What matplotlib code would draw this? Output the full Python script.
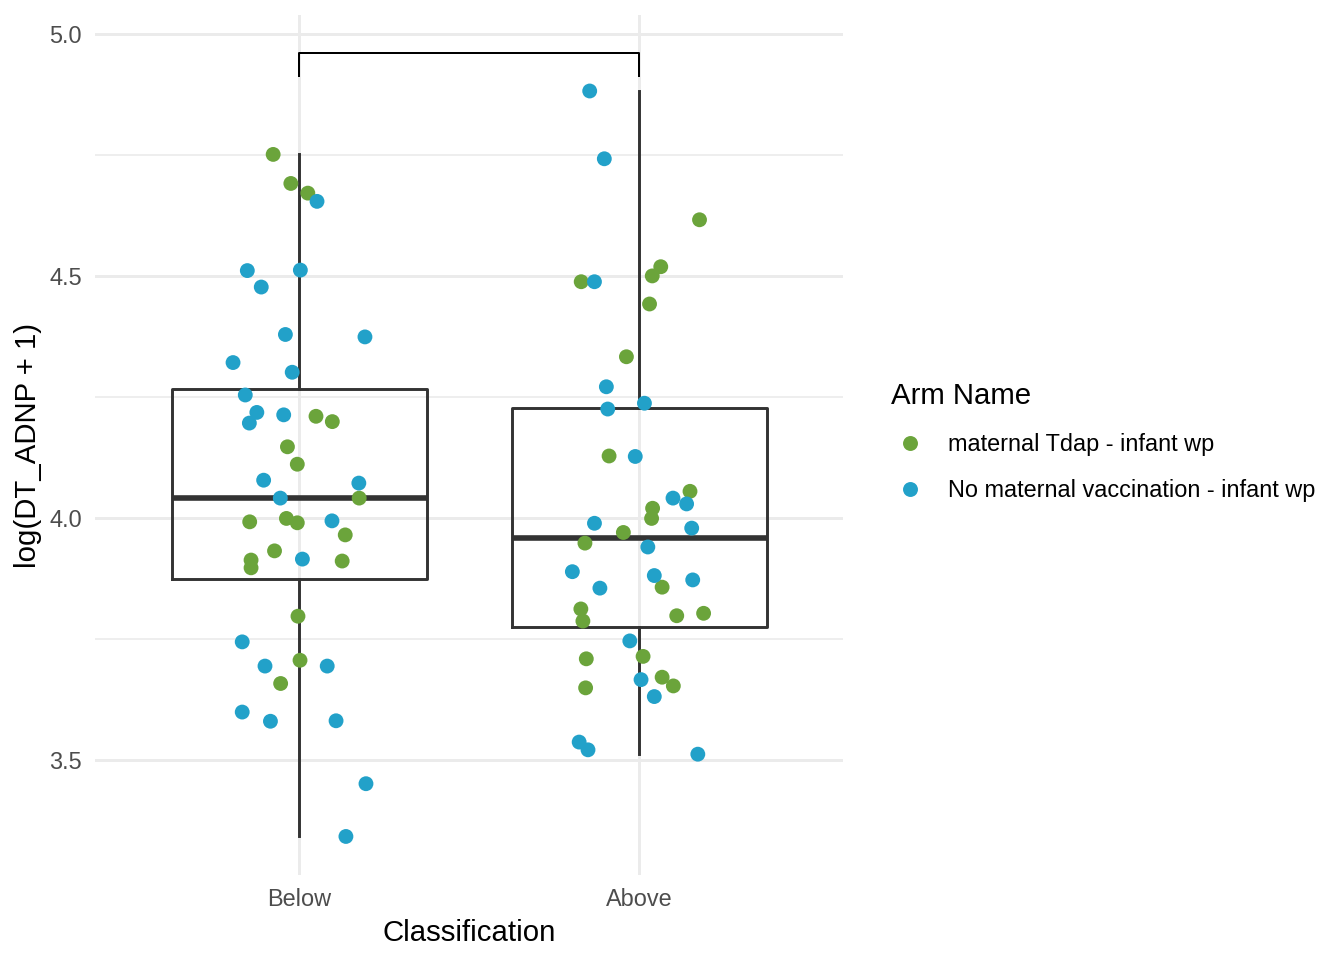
import matplotlib
matplotlib.use("Agg")
import matplotlib.pyplot as plt
from matplotlib.lines import Line2D

plt.rcParams['font.family'] = ['Liberation Sans', 'DejaVu Sans']

# kategorie i ramiona
categories = ["Below", "Above"]
arms = ["maternal Tdap - infant wp", "No maternal vaccination - infant wp"]
arm_colors = ["#6BA43B", "#22A1C9"]

# Below - maternal Tdap (jitter w jednostkach kategorii, wartosc)
below_tdap_dx = [-0.076, -0.024, 0.026, 0.050, 0.098, -0.034, -0.005, 0.177, -0.145, -0.037,
                 -0.005, 0.136, -0.072, -0.141, -0.141, 0.127, -0.003, 0.003, -0.054]
below_tdap_y = [4.751, 4.691, 4.671, 4.210, 4.199, 4.147, 4.111, 4.041, 3.992, 3.999,
                3.990, 3.965, 3.932, 3.913, 3.897, 3.911, 3.797, 3.706, 3.658]
# Below - no vaccination
below_novac_dx = [0.053, -0.152, 0.004, -0.111, -0.040, 0.194, -0.194, -0.020, -0.158, -0.124,
                  -0.045, -0.146, -0.104, 0.176, -0.055, 0.097, 0.010, -0.167, -0.100, 0.083,
                  -0.167, -0.084, 0.109, 0.197, 0.138]
below_novac_y = [4.654, 4.511, 4.512, 4.477, 4.379, 4.374, 4.321, 4.301, 4.254, 4.218,
                 4.213, 4.196, 4.078, 4.072, 4.041, 3.994, 3.915, 3.744, 3.694, 3.694,
                 3.599, 3.580, 3.581, 3.451, 3.342]
# Above - maternal Tdap
above_tdap_dx = [0.178, 0.064, 0.039, -0.170, 0.031, -0.037, -0.088, 0.150, 0.040, 0.037,
                 -0.046, -0.159, 0.068, -0.171, -0.165, 0.111, 0.190, -0.155, 0.012, 0.068,
                 0.101, -0.157]
above_tdap_y = [4.616, 4.519, 4.500, 4.488, 4.442, 4.333, 4.128, 4.055, 4.020, 3.999,
                3.970, 3.948, 3.857, 3.812, 3.787, 3.798, 3.803, 3.709, 3.714, 3.671,
                3.653, 3.649]
# Above - no vaccination
above_novac_dx = [-0.145, -0.102, -0.131, -0.096, 0.016, -0.092, -0.011, 0.100, 0.140, -0.131,
                  0.155, 0.026, -0.196, 0.045, 0.158, -0.115, -0.027, 0.006, 0.045, -0.176,
                  -0.150, 0.173]
above_novac_y = [4.882, 4.742, 4.488, 4.271, 4.237, 4.225, 4.127, 4.041, 4.029, 3.989,
                 3.979, 3.940, 3.889, 3.881, 3.872, 3.855, 3.746, 3.666, 3.631, 3.537,
                 3.521, 3.512]

# statystyki pudelek
box_q1 = [3.873, 3.775]
box_med = [4.041, 3.959]
box_q3 = [4.266, 4.227]
box_lo = [3.342, 3.512]
box_hi = [4.751, 4.882]

# klamra porownania
bracket_top = 4.961
bracket_tip = 4.913

fig = plt.figure(figsize=(7, 5), dpi=192)
ax = fig.add_axes([95 / 1344, 85 / 960, 748 / 1344, 860 / 960])

pos = [1, 2]
stats = []
for i in range(2):
    stats.append(dict(q1=box_q1[i], med=box_med[i], q3=box_q3[i],
                      whislo=box_lo[i], whishi=box_hi[i], fliers=[]))
lp = dict(color="#333333", linewidth=1.1)
ax.bxp(stats, positions=pos, widths=0.75, showfliers=False, showcaps=False,
       boxprops=lp, whiskerprops=lp,
       medianprops=dict(color="#333333", linewidth=2.1, solid_capstyle='butt'),
       zorder=2)

groups = [
    (1, below_tdap_dx, below_tdap_y, 0),
    (2, above_tdap_dx, above_tdap_y, 0),
    (1, below_novac_dx, below_novac_y, 1),
    (2, above_novac_dx, above_novac_y, 1),
]
for p, dx, yv, k in groups:
    ax.scatter([p + d for d in dx], yv, s=31, color=arm_colors[k],
               edgecolors='none', zorder=3)

ax.plot([1, 1, 2, 2], [bracket_tip, bracket_top, bracket_top, bracket_tip],
        color='black', linewidth=0.75, zorder=3)

ax.set_xlim(0.4, 2.6)
ax.set_ylim(3.2624, 5.039)
ax.set_xticks(pos)
ax.set_xticklabels(categories)
ax.set_yticks([3.5, 4.0, 4.5, 5.0])
ax.set_yticklabels(["3.5", "4.0", "4.5", "5.0"])
ax.set_yticks([3.75, 4.25, 4.75], minor=True)
ax.grid(True, which='major', color="#EBEBEB", linewidth=1.1, zorder=0)
ax.grid(True, which='minor', axis='y', color="#EBEBEB", linewidth=0.6, zorder=0)
ax.set_axisbelow(True)
for sp in ax.spines.values():
    sp.set_visible(False)
ax.tick_params(which='both', length=0, pad=4.95, labelsize=8.8, labelcolor="#4D4D4D")

ax.set_xlabel("Classification", fontsize=11, labelpad=2.75)
ax.set_ylabel("log(DT_ADNP + 1)", fontsize=11, labelpad=2.75)

handles = [Line2D([], [], marker='o', ls='none', color=c, markersize=5.6,
                  markeredgewidth=0) for c in arm_colors]
fig.legend(handles=handles, labels=arms, title="Arm Name", loc='center left',
           bbox_to_anchor=(891 / 1344, 1 - 442 / 960), frameon=False,
           fontsize=8.8, title_fontsize=11, alignment='left',
           handlelength=1.6, handletextpad=0.82, labelspacing=0.97,
           borderpad=0, borderaxespad=0)

fig.savefig("out.png", dpi=192)
